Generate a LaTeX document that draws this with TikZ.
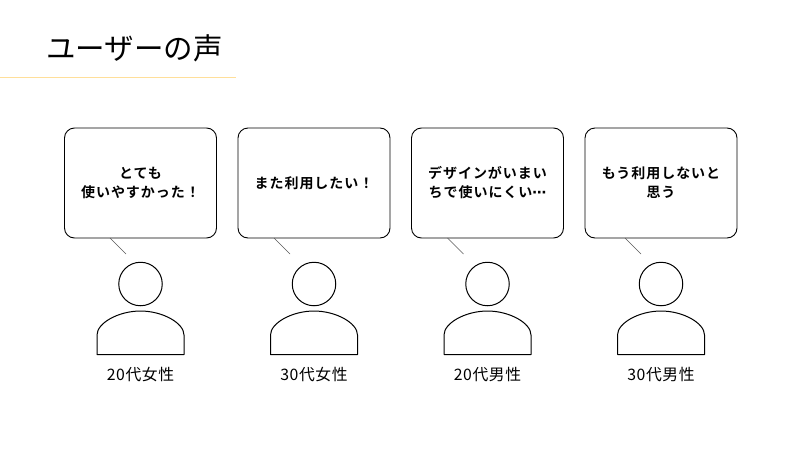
\documentclass[tikz,border=0pt]{standalone}
\usepackage{fontspec}
\newfontfamily\jpreg{Noto Sans CJK JP}
\newfontfamily\jpbold[LetterSpace=7]{Noto Sans CJK JP Bold}
\newfontfamily\jpdots{DejaVu Sans Bold}
\newfontfamily\jplab[LetterSpace=4]{Noto Sans CJK JP}
\definecolor{rulecol}{HTML}{FFDF9A}
\tikzset{
  x=1pt,y=-1pt,
  bubble/.style={draw=black,line width=0.9pt,rounded corners=10pt,minimum width=152pt,minimum height=110pt,inner sep=4pt,align=center,text width=140pt,font=\jpbold\fontsize{14}{19}\selectfont},
  tail/.style={draw=black!65,line width=0.5pt},
  head/.style={draw=black,line width=1pt,circle,minimum size=43.5pt,inner sep=0pt},
  torso/.style={draw=black,line width=1pt,line join=round},
  caption/.style={font=\jplab\fontsize{15.8}{18}\selectfont,inner sep=0pt,anchor=center},
  rule/.style={draw=#1,line width=0.7pt}
}
\newcommand{\persona}[5]{%
  \node[bubble] (b#1) at (#2,183) {#3};
  \coordinate (ts#1) at (#4,238);
  \coordinate (te#1) at ([xshift=16pt,yshift=-16pt]ts#1);
  \draw[tail] (ts#1) -- (te#1);
  \node[head] (h#1) at (#2,284) {};
  \draw[torso] (#2-43.5,354.5) -- (#2-43.5,335)
     .. controls (#2-43.5,323) and (#2-22,311) .. (#2,311)
     .. controls (#2+22,311) and (#2+43.5,323) .. (#2+43.5,335)
     -- (#2+43.5,354.5) -- cycle;
  \node[caption] (c#1) at (#2,374.5) {#5};
}
\begin{document}
\begin{tikzpicture}
\useasboundingbox (0,0) rectangle (800,450);
\fill[white] (0,0) rectangle (800,450);
\node[font=\jpreg\fontsize{29.5}{32}\selectfont,inner sep=0pt,anchor=west] (title) at (46,48.5) {ユーザーの声};
\coordinate (ra) at (0,77.5);
\coordinate (rb) at (236,77.5);
\draw[rule=rulecol] (ra) -- (rb);
\persona{1}{140.5}{とても\\使いやすかった！}{110}{20代女性}
\persona{2}{314}{また利用したい！}{274}{30代女性}
\persona{3}{487.5}{デザインがいまい\\ちで使いにくい{\jpdots\fontsize{14}{19}\selectfont ⋯}}{447.5}{20代男性}
\persona{4}{661}{もう利用しないと\\思う}{625}{30代男性}
\end{tikzpicture}
\end{document}
